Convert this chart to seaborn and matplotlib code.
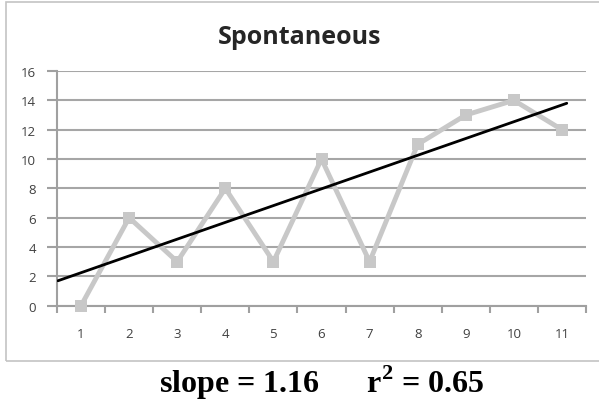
import matplotlib
matplotlib.use("Agg")
import matplotlib.pyplot as plt
import pandas as pd
import seaborn as sns
from matplotlib.patches import Rectangle

# data
trials = [1, 2, 3, 4, 5, 6, 7, 8, 9, 10, 11]
scores = [0, 6, 3, 8, 3, 10, 3, 11, 13, 14, 12]
trend_x = [0.52, 11.1]
trend_y = [1.7, 13.8]
y_ticks = [0, 2, 4, 6, 8, 10, 12, 14, 16]

df = pd.DataFrame({'trial': trials, 'score': scores})
df_trend = pd.DataFrame({'x': trend_x, 'y': trend_y})

sns.set_style('white')
plt.rcParams['font.family'] = ['Open Sans', 'DejaVu Sans']
plt.rcParams['mathtext.fontset'] = 'custom'
plt.rcParams['mathtext.bf'] = 'Liberation Serif:bold'
plt.rcParams['mathtext.rm'] = 'Liberation Serif:bold'

fig = plt.figure(figsize=(5.99, 4.02), dpi=100)
fig.patch.set_facecolor('white')
# chart border
fig.patches.append(Rectangle((6 / 599, 1 - 362 / 402), 600 / 599, 359 / 402,
                             transform=fig.transFigure, fill=False,
                             edgecolor='#c4c4c4', linewidth=1.2))

ax = fig.add_axes([57 / 599, (402 - 306.7) / 402, 529 / 599, (306.7 - 72) / 402])

sns.lineplot(data=df, x='trial', y='score', ax=ax, color='#c8c8c8',
             linewidth=3.5, marker='s', markersize=9, markeredgewidth=0,
             clip_on=False, zorder=3)
sns.lineplot(data=df_trend, x='x', y='y', ax=ax, color='black',
             linewidth=2, zorder=4)

ax.set_xlim(0.5, 11.5)
ax.set_ylim(0, 16)
ax.set_yticks(y_ticks)
ax.set_xticks(trials)
ax.set_xticks([t + 0.5 for t in [0] + trials], minor=True)
ax.tick_params(axis='x', which='major', length=0, pad=15, labelsize=9.5, labelcolor='#404040')
ax.tick_params(axis='x', which='minor', length=5, width=1.5, color='#a0a0a0', direction='out', bottom=True)
ax.tick_params(axis='y', length=7, width=1.5, color='#a0a0a0', direction='out', left=True,
               pad=8, labelsize=9.5, labelcolor='#404040')
ax.grid(axis='y', color='#a6a6a6', linewidth=1.5)
ax.set_axisbelow(True)
for side in ['top', 'right']:
    ax.spines[side].set_visible(False)
for side in ['left', 'bottom']:
    ax.spines[side].set_color('#a0a0a0')
    ax.spines[side].set_linewidth(1.5)
ax.set_xlabel('')
ax.set_ylabel('')

fig.text(0.5, 1 - 37 / 402, 'Spontaneous', ha='center', va='center',
         fontsize=18, fontweight='bold', color='#262626')

fig.text(322 / 599, 1 - 383 / 402, 'slope = 1.16      r$^{\\mathbf{2}}$ = 0.65',
         ha='center', va='center', fontsize=23, fontweight='bold',
         family=['Liberation Serif'], color='black')

fig.savefig('out.png', dpi=100)
